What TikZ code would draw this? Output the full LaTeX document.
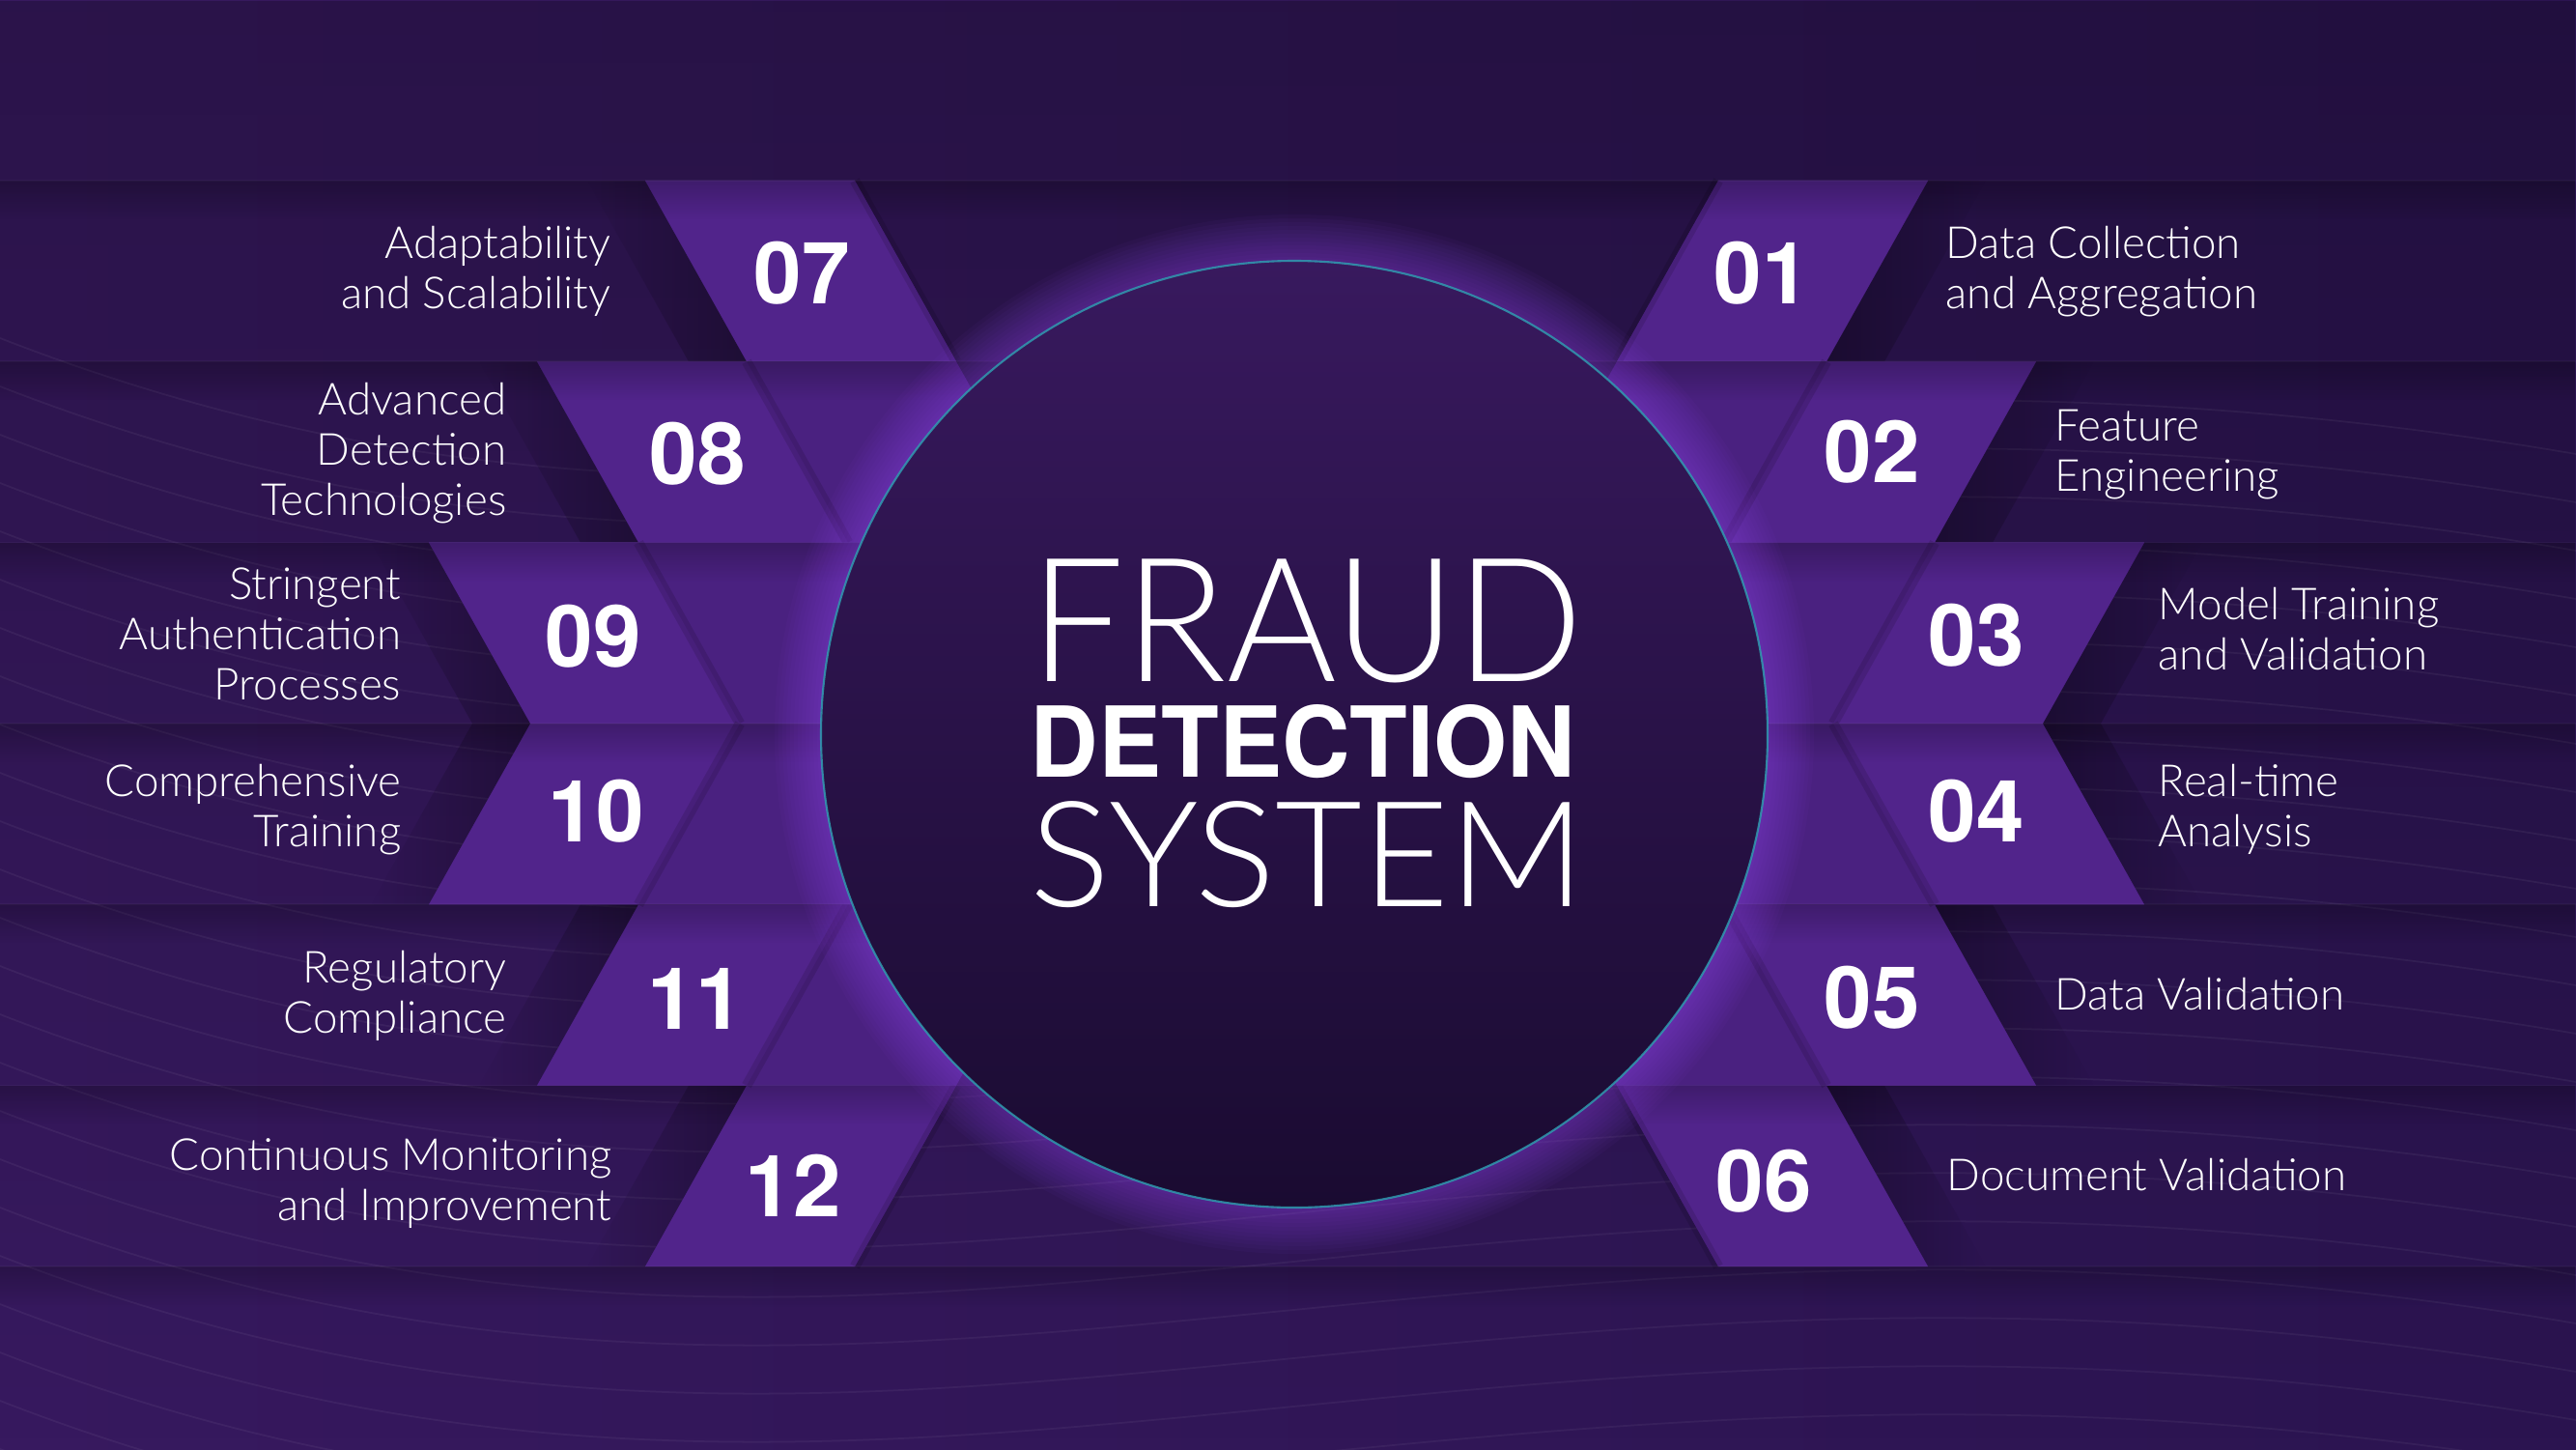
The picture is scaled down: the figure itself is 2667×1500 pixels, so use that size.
\documentclass[tikz,border=0pt]{standalone}
\usepackage{fontspec}
\usetikzlibrary{fadings}
\newfontfamily\thinfont{Lato Light}
\newfontfamily\herosfont{TeX Gyre Heros}
\definecolor{bgleft}{HTML}{37195F}
\definecolor{bgright}{HTML}{2B1450}
\definecolor{stripec}{HTML}{51248B}
\definecolor{ghostc}{HTML}{4A2180}
\definecolor{glowc}{HTML}{A052FF}
\definecolor{circtop}{HTML}{38195E}
\definecolor{circmid}{HTML}{21103D}
\definecolor{circbot}{HTML}{1A0B31}
\definecolor{ringc}{HTML}{2FA2B4}
\tikzfading[name=fadedown, top color=transparent!0, bottom color=transparent!100]
\tikzfading[name=faderight, left color=transparent!0, right color=transparent!100]
\tikzfading[name=fadeleft, left color=transparent!100, right color=transparent!0]
\begin{document}
\begin{tikzpicture}[x=0.01cm,y=-0.01cm,
  stripe/.style={fill=stripec},
  ghost/.style={fill=ghostc},
  num/.style={font=\herosfont\bfseries\fontsize{25.3}{25.3}\selectfont, text=white, inner sep=0pt},
  lbl/.style={font=\thinfont\fontsize{13}{14.8}\selectfont, text=white, inner sep=0pt},
  title/.style={text=white, inner sep=0pt, anchor=base west}]
  \useasboundingbox (0,0) rectangle (2667,1500);
  % background
  \shade[left color=bgleft, right color=bgright] (0,0) rectangle (2667,1500);
  \fill[black, path fading=fadedown, fill opacity=0.22] (0,0) rectangle (2667,1500);
  \foreach \y in {350,400,...,1650} {
    \draw[white, opacity=0.05, line width=0.5pt] (0,\y) .. controls (900,\y+350) and (1500,\y-80) .. (2667,\y+120);
  }
  %
  % ribbons, one quarter mirrored four times
  \foreach \sx/\fd in {1/faderight,-1/fadeleft} {
    \foreach \sy in {1,-1} {
      \begin{scope}[shift={(1332,749)}, xscale=\sx, yscale=\sy]
        \foreach \k in {0,1,2} {
          \pgfmathsetmacro{\ta}{-562+187.3*\k}
          \pgfmathsetmacro{\tb}{\ta+187.3}
          \pgfmathsetmacro{\aa}{447+112*\k}
          \fill[ghost] (447-105*\k,\ta) -- (\aa+217,\ta) -- (\aa+112,\tb) -- (342-105*\k,\tb) -- cycle;
          \fill[stripe] (\aa,\ta) -- (\aa+217,\ta) -- (\aa+112,\tb) -- (\aa-105,\tb) -- cycle;
          \draw[black, opacity=0.12, line width=3pt] (\aa,\ta) -- (\aa-105,\tb);
          \fill[black, path fading=\fd, fill opacity=0.3] (\aa+217,\ta) -- (\aa+277,\ta) -- (\aa+172,\tb) -- (\aa+112,\tb) -- cycle;
        }
      \end{scope}
    }
  }
  %
  % row edges
  \foreach \y in {187,374.3,...,1312} {
    \fill[black, path fading=fadedown, fill opacity=0.22] (0,\y) rectangle (2667,\y+40);
    \draw[white, opacity=0.03, line width=0.5pt] (0,\y) -- (2667,\y);
  }
  %
  % circle with glow
  \foreach \r in {494,498,...,538} {
    \fill[glowc, fill opacity=0.035] (1340,760) circle[radius=\r];
  }
  \shade[top color=circtop, middle color=circmid, bottom color=circbot] (1340,760) circle[radius=490];
  \draw[ringc, opacity=0.8, line width=0.6pt] (1340,760) circle[radius=490];
  \node[title, font=\thinfont\fontsize{50.9}{50.9}\selectfont] (fraud) at (1066,705) {\scalebox{0.97}[1]{FRAUD}};
  \node[title, font=\herosfont\bfseries\fontsize{28.8}{28.8}\selectfont] (detection) at (1066,804) {\scalebox{0.965}[1]{DETECTION}};
  \node[title, font=\thinfont\fontsize{43.3}{43.3}\selectfont] (system) at (1066,938) {\scalebox{1.02}[1]{SYSTEM}};
  %
  % numbers
  \foreach \x/\y/\n in {1824/283/01,1938/468/02,2046/658/03,2046/840/04,1938/1033/05,1826/1223/06,
                        830/283/07,722/470/08,614/659/09,617/840/10,720/1034/11,821/1227/12} {
    \node[num] (n\n) at (\x,\y) {\n};
  }
  %
  % labels
  \foreach \x/\y/\t [count=\i] in {2014/267/{Data Collection\\and Aggregation},2127/456/{Feature\\Engineering},
                        2234/641/{Model Training\\and Validation},2234/824/{Real-time\\Analysis},
                        2127/1045/{Data Validation},2015/1232/{Document Validation}} {
    \node[lbl, anchor=base west] (r\i) at (\x,\y) {\begin{tabular}[t]{@{}l@{}}\t\end{tabular}};
  }
  \foreach \x/\y/\t [count=\i] in {633/267/{Adaptability\\and Scalability},525/429/{Advanced\\Detection\\Technologies},
                        416/620/{Stringent\\Authentication\\Processes},416/824/{Comprehensive\\Training},
                        525/1017/{Regulatory\\Compliance},634/1211/{Continuous Monitoring\\and Improvement}} {
    \node[lbl, anchor=base east] (l\i) at (\x,\y) {\begin{tabular}[t]{@{}r@{}}\t\end{tabular}};
  }
\end{tikzpicture}
\end{document}
